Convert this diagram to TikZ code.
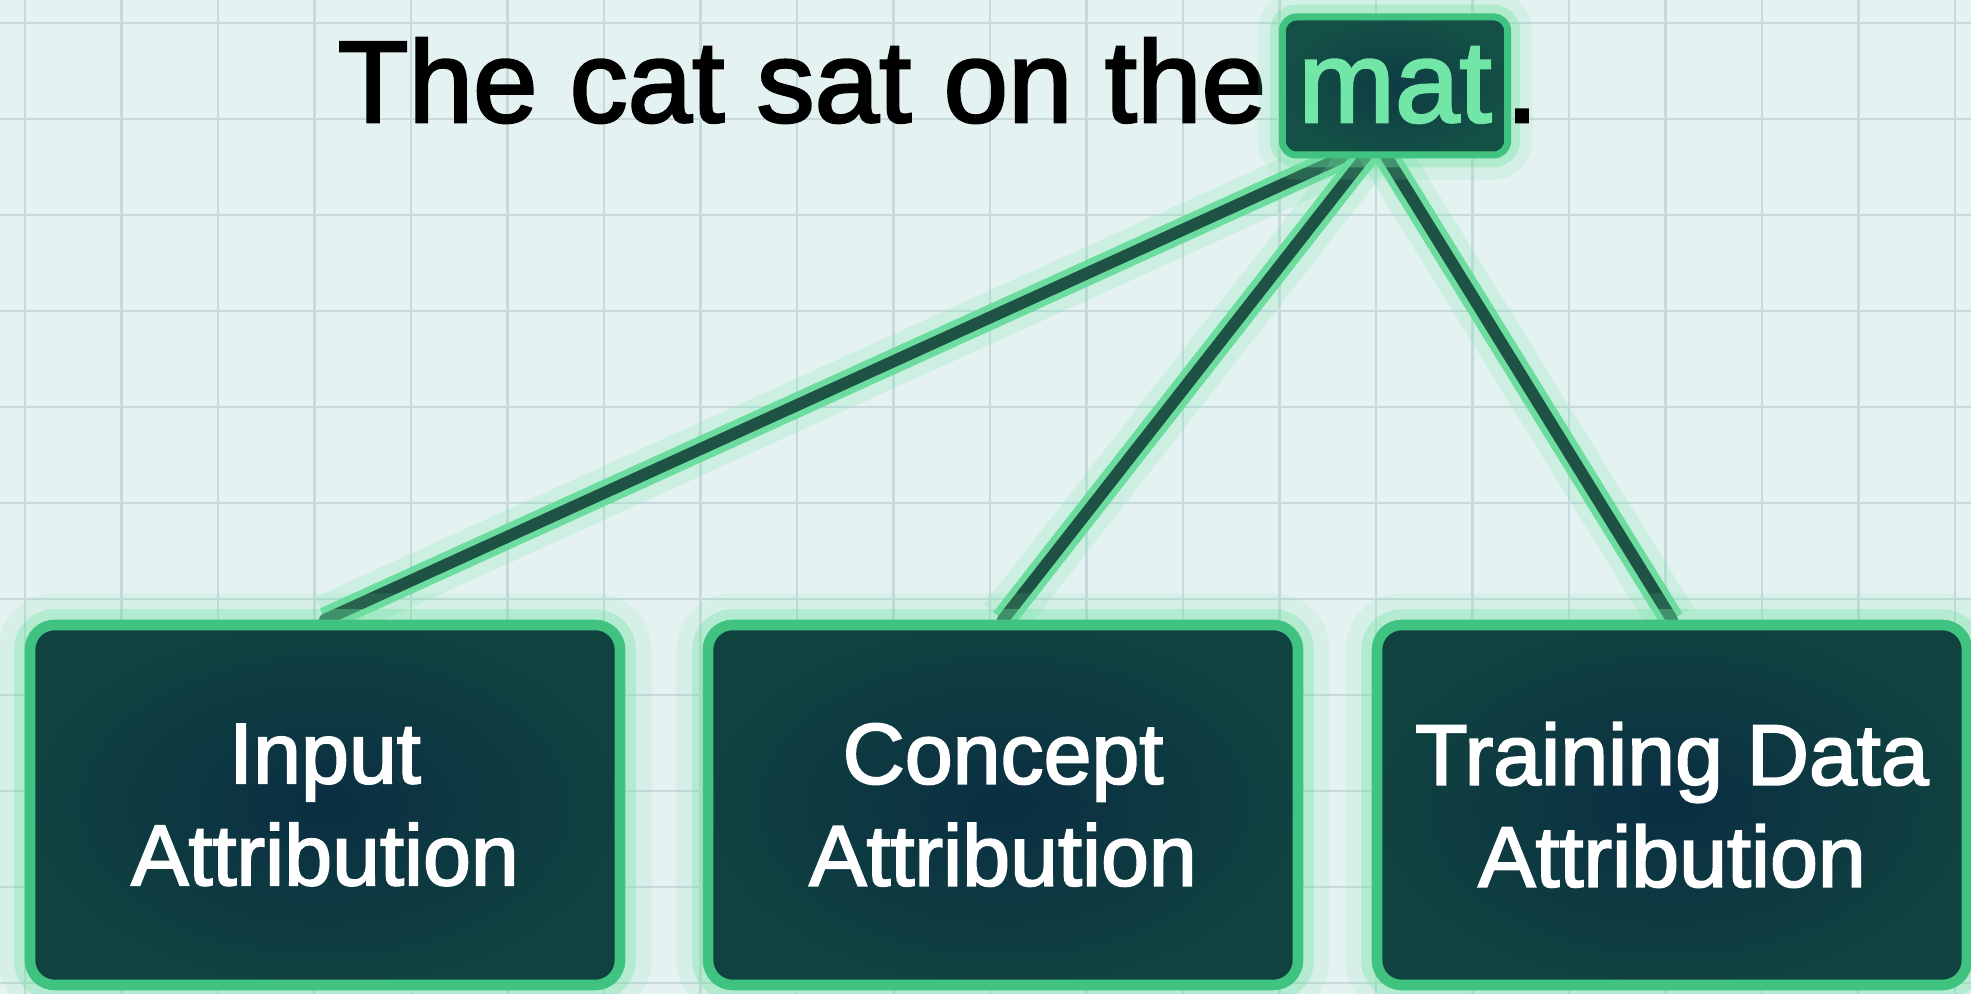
\documentclass[tikz,border=0pt]{standalone}
\usepackage{fontspec}
\setsansfont{Liberation Sans}
\newfontfamily\medfont[FakeBold=2.2]{Liberation Sans}
\usetikzlibrary{
  positioning,
  calc
}
\definecolor{paper}{RGB}{229,242,242}
\definecolor{gridline}{RGB}{200,217,222}
\definecolor{boxfill}{RGB}{10,46,66}
\definecolor{boxedge}{RGB}{16,66,64}
\definecolor{rim}{RGB}{64,194,128}
\definecolor{halo}{RGB}{112,228,162}
\definecolor{wire}{RGB}{30,82,68}
\definecolor{matfill}{RGB}{20,80,70}
\definecolor{mattext}{RGB}{114,230,166}

\pgfdeclarelayer{grid}
\pgfdeclarelayer{links}
\pgfsetlayers{grid,links,main}

\begin{document}
\begin{tikzpicture}[
  attr/.style={draw=rim, line width=3pt, rounded corners=7pt,
               inner color=boxfill, outer color=boxedge,
               minimum width=5.9cm, minimum height=3.6cm, align=center,
               font=\medfont\fontsize{24.5}{29}\selectfont, text=white,
               preaction={draw=halo, line width=18pt, opacity=0.12},
               preaction={draw=halo, line width=9pt, opacity=0.35}},
  sentence/.style={font=\medfont\fontsize{33}{40}\selectfont, text=black,
                   inner sep=0pt, anchor=base west},
  matbox/.style={draw=rim, line width=2pt, rounded corners=4pt,
                 inner color=boxfill!60!matfill, outer color=matfill,
                 font=\medfont\fontsize{33}{40}\selectfont, text=mattext,
                 inner xsep=0.16cm, inner ysep=0pt,
                 text height=1.05cm, text depth=0.33cm, anchor=base west,
                 preaction={draw=halo, line width=14pt, opacity=0.15},
                 preaction={draw=halo, line width=7pt, opacity=0.35}},
  link/.style={draw=wire, line width=3.4pt, line cap=round,
               preaction={draw=halo, line width=14pt, opacity=0.2},
               preaction={draw=halo!70!rim, line width=7pt, opacity=0.9}}
]
\useasboundingbox (0,0) rectangle (19.71,9.94);

\begin{pgfonlayer}{grid}
  \fill[paper] (0,0) rectangle (19.71,9.94);
  \foreach \i in {0,...,20}
    \draw[gridline, line width=0.7pt] ({0.25+0.965*\i},0) -- ++(0,9.94);
  \foreach \j in {0,...,10}
    \draw[gridline, line width=0.7pt] (0,{9.71-0.96*\j}) -- ++(19.71,0);
\end{pgfonlayer}

\node[sentence] (sent) at (3.37,8.72) {The cat sat on the};
\node[matbox] (mat) at ([xshift=0.12cm]sent.base east) {mat};
\node[sentence] (stop) at ([xshift=-0.06cm]mat.base east) {.};
\coordinate (hub) at ([xshift=-0.18cm, yshift=0.17cm]mat.south);

\node[attr] (input)   at (3.25,1.89)  {Input\\Attribution};
\node[attr] (concept) at (10.03,1.89) {Concept\\Attribution};
\node[attr] (tda)     at (16.72,1.89) {Training Data\\Attribution};

\begin{pgfonlayer}{links}
  \foreach \b in {input,concept,tda}
    \draw[link] (hub) -- (\b.north);
\end{pgfonlayer}

\end{tikzpicture}
\end{document}
